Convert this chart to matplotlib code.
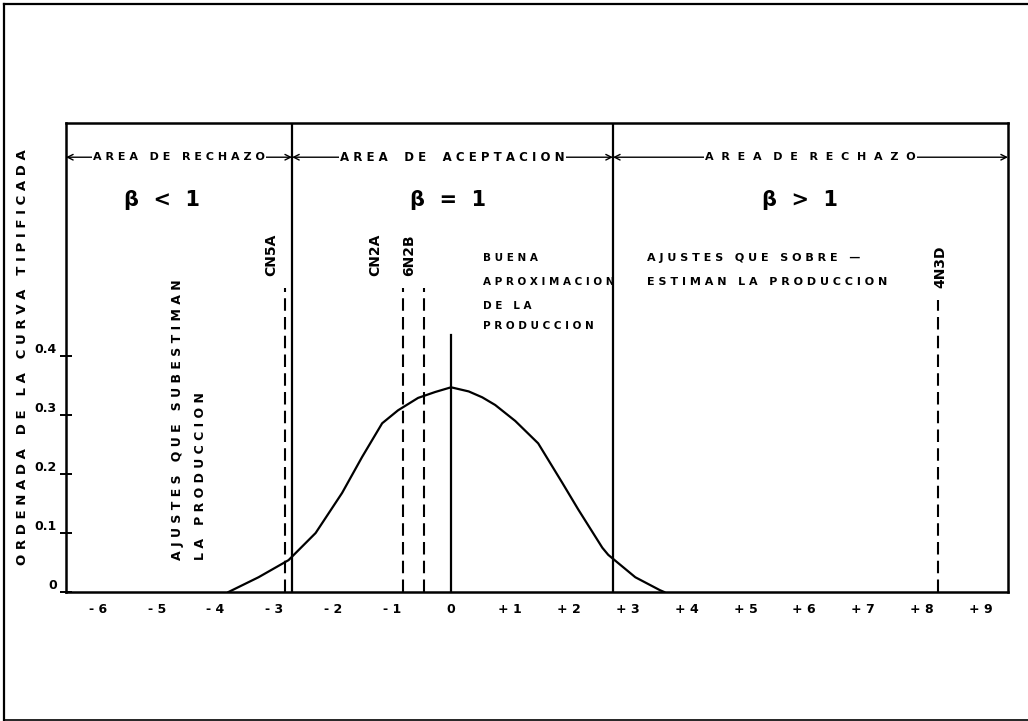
import matplotlib
matplotlib.use("Agg")
import matplotlib.pyplot as plt
from matplotlib.lines import Line2D

# curve (standard units vs ordinate)
curve_x = [-3.78, -3.27, -2.76, -2.30, -1.85, -1.51, -1.17, -0.90, -0.56, -0.27, 0.0,
           0.30, 0.53, 0.75, 1.09, 1.48, 1.89, 2.16, 2.57, 2.67, 3.13, 3.55, 3.62]
curve_y = [0.0, 0.025, 0.054, 0.10, 0.168, 0.229, 0.286, 0.308, 0.329, 0.339, 0.347,
           0.340, 0.330, 0.317, 0.290, 0.252, 0.185, 0.140, 0.075, 0.063, 0.025, 0.003, 0.0]

# limits of the acceptance area
bounds = [-2.70, 2.75]

# fitted models (dashed lines)
fits = ["CN5A", "CN2A", "6N2B", "4N3D"]
fit_x = [-2.82, -0.81, -0.46, 8.27]
fit_top = [0.515, 0.515, 0.515, 0.495]

mean_top = 0.435

xticks = list(range(-6, 10))
xlabels = ["- %d" % -v if v < 0 else ("0" if v == 0 else "+ %d" % v) for v in xticks]
yticks = [0, 0.1, 0.2, 0.3, 0.4]
ylabels = ["0", "0.1", "0.2", "0.3", "0.4"]


def spaced(s, gap=" ", wgap="   "):
    return wgap.join(gap.join(w) for w in s.split(" "))


plt.rcParams["font.family"] = "DejaVu Sans"
plt.rcParams["font.weight"] = "bold"

fig = plt.figure(figsize=(10.28, 7.21), dpi=100)
ax = fig.add_axes([66 / 1028, 129 / 721, 942 / 1028, 469 / 721])
ax.set_xlim(-6.54, 9.46)
ax.set_ylim(0, 0.795)

for s in ax.spines.values():
    s.set_linewidth(1.8)

# outer frame of the page
fig.add_artist(Line2D([4 / 1028, 4 / 1028], [0.002, 0.995], color="k", lw=1.6))
fig.add_artist(Line2D([4 / 1028, 1.0], [0.995, 0.995], color="k", lw=1.6))
fig.add_artist(Line2D([4 / 1028, 1.0], [0.002, 0.002], color="k", lw=1.2))

ax.plot(curve_x, curve_y, color="k", lw=1.6)
for b in bounds:
    ax.axvline(b, color="k", lw=1.6)
ax.plot([0, 0], [0, mean_top], color="k", lw=1.6)

label_dx = [-10, -20, -11, 2]
for name, x, top, dx in zip(fits, fit_x, fit_top, label_dx):
    ax.plot([x, x], [0, top], color="k", lw=1.5, ls=(0, (6, 3)))
    ax.annotate(name, (x, top + 0.02), xytext=(dx, 0), textcoords="offset points",
                rotation=90, ha="center", va="bottom", fontsize=10, fontweight="bold")

# area headers with arrows
edges = [ax.get_xlim()[0], bounds[0], bounds[1], ax.get_xlim()[1]]
heads = [("AREA DE RECHAZO", " ", "   ", 8), ("AREA DE ACEPTACION", " ", "    ", 8.5),
         ("AREA DE RECHAZO", "  ", "   ", 8)]
for i, (txt, g, wg, fs) in enumerate(heads):
    l, r = edges[i], edges[i + 1]
    ax.annotate("", xy=(l, 0.737), xytext=(r, 0.737),
                arrowprops=dict(arrowstyle="<->", lw=1.0, color="k", shrinkA=0, shrinkB=0))
    ax.text((l + r) / 2, 0.737, spaced(txt, g, wg), ha="center", va="center", fontsize=fs,
            bbox=dict(facecolor="white", edgecolor="none", pad=1))

for t, x in zip(["β  <  1", "β  =  1", "β  >  1"], [-4.91, -0.05, 5.93]):
    ax.text(x, 0.664, t, ha="center", va="center", fontsize=15, fontweight="bold")

ax.text(-4.65, 0.054, spaced("AJUSTES QUE SUBESTIMAN"), rotation=90, ha="center", va="bottom", fontsize=9)
ax.text(-4.26, 0.054, spaced("LA PRODUCCION"), rotation=90, ha="center", va="bottom", fontsize=9)

for t, y in zip(["BUENA", "APROXIMACION", "DE LA", "PRODUCCION"], [0.566, 0.525, 0.485, 0.451]):
    ax.text(0.54, y, spaced(t), ha="left", va="center", fontsize=7.5)

ax.text(3.33, 0.566, spaced("AJUSTES QUE SOBRE —"), ha="left", va="center", fontsize=8)
ax.text(3.33, 0.525, spaced("ESTIMAN LA PRODUCCION"), ha="left", va="center", fontsize=8)

ax.set_ylabel(spaced("ORDENADA DE LA CURVA TIPIFICADA"), fontsize=9.5, fontweight="bold", labelpad=4)

ax.set_xticks(xticks)
ax.set_xticklabels(xlabels, fontsize=9, fontweight="bold")
ax.tick_params(axis="x", length=0, pad=8)
ax.set_yticks(yticks)
ax.set_yticklabels(ylabels, fontsize=9, fontweight="bold", va="bottom")
ax.tick_params(axis="y", direction="inout", length=9, width=1.4, pad=2)

fig.savefig("out.png", dpi=100, facecolor="white")
